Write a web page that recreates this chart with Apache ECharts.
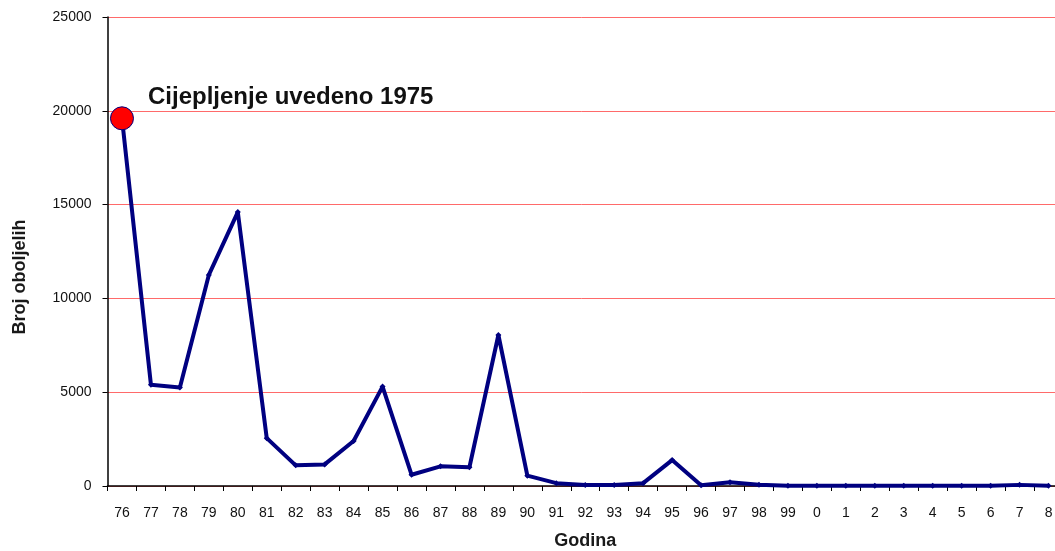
<!DOCTYPE html>
<html>
<head>
<meta charset="utf-8">
<script src="https://cdn.jsdelivr.net/npm/echarts@6/dist/echarts.min.js"></script>
<style>
  html, body { margin: 0; padding: 0; background: #fff; }
  #chart { width: 1055px; height: 551px; }
</style>
</head>
<body>
<div id="chart"></div>
<script>
// godine (kategorije na x osi)
const godine = ['76','77','78','79','80','81','82','83','84','85','86','87','88','89','90','91','92','93','94','95','96','97','98','99','0','1','2','3','4','5','6','7','8'];

// broj oboljelih po godini
const oboljeli = [19600, 5400, 5250, 11250, 14600, 2550, 1100, 1150, 2400, 5300, 600, 1050, 1000, 8050, 550, 150, 50, 50, 150, 1380, 40, 200, 70, 10, 10, 10, 10, 10, 10, 10, 10, 60, 10];

const yMax = 25000;
const yStep = 5000;

const chart = echarts.init(document.getElementById('chart'));

// prva tocka je istaknuta crvenom tockom
const seriesData = oboljeli.map((v, i) => {
  if (i === 0) {
    return {
      value: v,
      symbol: 'circle',
      symbolSize: 23,
      itemStyle: { color: '#ff0000', borderColor: '#000080', borderWidth: 1 }
    };
  }
  return v;
});

const font = 'Liberation Sans, Arial';

const option = {
  backgroundColor: '#ffffff',
  animation: false,
  grid: { left: 107.5, right: -8, top: 17, bottom: 65, outerBoundsMode: 'none', containLabel: false },
  xAxis: {
    type: 'category',
    data: godine,
    boundaryGap: true,
    axisLine: { lineStyle: { color: '#000', width: 1.5 } },
    axisTick: { show: true, length: 5, lineStyle: { color: '#000' } },
    axisLabel: { color: '#111', fontFamily: font, fontSize: 14, margin: 20, interval: 0 },
    name: 'Godina',
    nameLocation: 'middle',
    nameGap: 46,
    nameMoveOverlap: false,
    nameTextStyle: { color: '#1a1a1a', fontFamily: font, fontSize: 18, fontWeight: 'bold' }
  },
  yAxis: {
    type: 'value',
    min: 0,
    max: yMax,
    interval: yStep,
    axisLine: { show: true, lineStyle: { color: '#000', width: 1.5 } },
    axisTick: { show: true, length: 5, lineStyle: { color: '#000' } },
    axisLabel: { color: '#111', fontFamily: font, fontSize: 14, margin: 16, formatter: v => String(v) },
    splitLine: { lineStyle: { color: '#ff6a6a', width: 1 } }
  },
  graphic: [
    {
      type: 'text',
      x: 20, y: 277,
      rotation: Math.PI / 2,
      style: {
        text: 'Broj oboljelih',
        fill: '#1a1a1a',
        font: 'bold 18px "Liberation Sans", Arial',
        textAlign: 'center',
        textVerticalAlign: 'middle'
      }
    },
    {
      type: 'text',
      left: 148, top: 85,
      style: {
        text: 'Cijepljenje uvedeno 1975',
        fill: '#111',
        font: 'bold 24px "Liberation Sans", Arial'
      }
    }
  ],
  series: [{
    type: 'line',
    data: seriesData,
    symbol: 'diamond',
    symbolSize: 6,
    lineStyle: { color: '#000080', width: 4 },
    itemStyle: { color: '#000080' },
    z: 3
  }]
};

chart.setOption(option);
</script>
</body>
</html>
